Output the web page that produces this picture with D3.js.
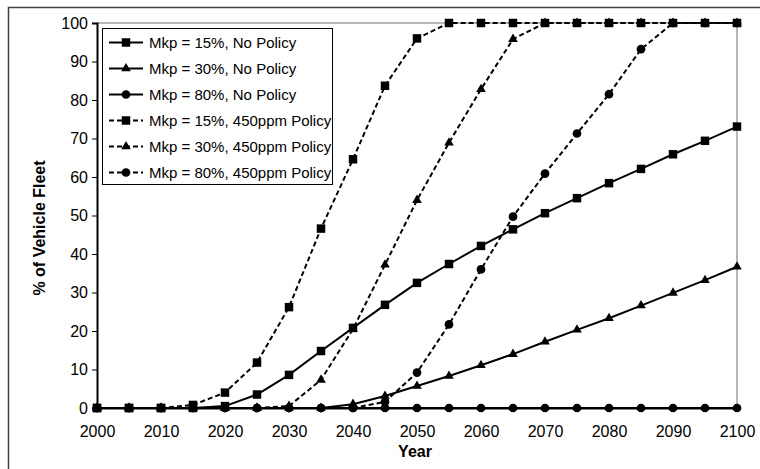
<!DOCTYPE html>
<html><head><meta charset="utf-8">
<script src="https://cdn.jsdelivr.net/npm/d3@7"></script>
<style>body{margin:0;background:#fff}svg{display:block}</style>
</head><body>
<svg id="c" width="760" height="469"></svg>
<script>
const years = d3.range(2000, 2101, 5);
const yTicks = [0,10,20,30,40,50,60,70,80,90,100];
const xTicks = [2000,2010,2020,2030,2040,2050,2060,2070,2080,2090,2100];
const seriesNames = ["Mkp = 15%, No Policy","Mkp = 30%, No Policy","Mkp = 80%, No Policy",
  "Mkp = 15%, 450ppm Policy","Mkp = 30%, 450ppm Policy","Mkp = 80%, 450ppm Policy"];
const mkp15NoPolicy = [0,0,0,0,0.5,3.5,8.6,14.8,20.8,26.8,32.5,37.4,42.1,46.4,50.6,54.5,58.4,62.1,65.9,69.4,73.1];
const mkp30NoPolicy = [0,0,0,0,0,0,0,0,1.0,3.1,5.7,8.3,11.1,14.0,17.2,20.3,23.3,26.6,29.9,33.2,36.7];
const mkp80NoPolicy = [0,0,0,0,0,0,0,0,0,0,0,0,0,0,0,0,0,0,0,0,0];
const mkp15Policy = [0,0,0,0.8,4.0,11.8,26.2,46.6,64.6,83.7,96.0,100,100,100,100,100,100,100,100,100,100];
const mkp30Policy = [0,0,0,0,0,0,0.5,7.3,20.5,37.2,54.0,68.9,82.8,95.8,100,100,100,100,100,100,100];
const mkp80Policy = [0,0,0,0,0,0,0,0,0,1.6,9.2,21.7,36.0,49.7,60.9,71.3,81.5,93.2,100,100,100];
const seriesValues = [mkp15NoPolicy,mkp30NoPolicy,mkp80NoPolicy,mkp15Policy,mkp30Policy,mkp80Policy];
const markers = ["square","triangle","circle","square","triangle","circle"];
const dashed = [false,false,false,true,true,true];

const svg = d3.select("#c");
const font = "'Liberation Sans', Arial, sans-serif";
// outer frame
svg.append("rect").attr("x",8.5).attr("y",7.5).attr("width",800).attr("height",500)
  .attr("fill","none").attr("stroke","#404040").attr("stroke-width",1.5);

const L=97, R=737, T=23, B=408;
const x = d3.scaleLinear().domain([2000,2100]).range([L,R]);
const y = d3.scaleLinear().domain([0,100]).range([B,T]);

// plot border (grey)
svg.append("path").attr("d",`M${L},${T}H${R}V${B}`).attr("fill","none").attr("stroke","#a0a0a0").attr("stroke-width",1.5);

// y axis
const ya = svg.append("g").attr("transform",`translate(${L},0)`)
  .call(d3.axisLeft(y).tickValues(yTicks).tickSize(5).tickPadding(4));
ya.select(".domain").attr("stroke","#000").attr("stroke-width",2);
ya.selectAll("text").attr("font-family",font).attr("font-size",16).attr("fill","#000");
// x axis
const xa = svg.append("g").attr("transform",`translate(0,${B})`)
  .call(d3.axisBottom(x).tickValues(xTicks).tickSize(0).tickPadding(18).tickFormat(d3.format("d")));
xa.select(".domain").attr("stroke","#000").attr("stroke-width",2);
xa.selectAll("text").attr("font-family",font).attr("font-size",16).attr("fill","#000");

svg.append("text").attr("x",415).attr("y",457).attr("text-anchor","middle")
  .attr("font-family",font).attr("font-weight","bold").attr("font-size",16).text("Year");
svg.append("text").attr("transform",`translate(45,228) rotate(-90)`).attr("text-anchor","middle")
  .attr("font-family",font).attr("font-weight","bold").attr("font-size",16).text("% of Vehicle Fleet");

const sym = {
  square: d3.symbol().type(d3.symbolSquare).size(72),
  triangle: d3.symbol().type(d3.symbolTriangle).size(40),
  circle: d3.symbol().type(d3.symbolCircle).size(60)
};
const line = d3.line().x((d,i)=>x(years[i])).y(d=>y(d));

seriesValues.forEach((vals,si)=>{
  const g = svg.append("g");
  g.append("path").attr("d",line(vals)).attr("fill","none").attr("stroke","#000")
    .attr("stroke-width",2).attr("stroke-dasharray",dashed[si]?"5,3":null);
  g.selectAll("path.m").data(vals).enter().append("path").attr("class","m")
    .attr("transform",(d,i)=>`translate(${x(years[i])},${y(d)})`)
    .attr("d",sym[markers[si]]()).attr("fill","#000");
});

// legend
const lg = svg.append("g");
lg.append("rect").attr("x",102.5).attr("y",28.5).attr("width",230).attr("height",156)
  .attr("fill","#fff").attr("stroke","#000").attr("stroke-width",1);
seriesNames.forEach((name,i)=>{
  const cy = 42.5 + i*26;
  lg.append("line").attr("x1",109).attr("x2",143).attr("y1",cy).attr("y2",cy)
    .attr("stroke","#000").attr("stroke-width",2).attr("stroke-dasharray",dashed[i]?"5,3":null);
  lg.append("path").attr("transform",`translate(126,${cy})`).attr("d",sym[markers[i]]()).attr("fill","#000");
  lg.append("text").attr("x",149).attr("y",cy+5.5).attr("font-family",font).attr("font-size",15)
    .attr("fill","#000").text(name);
});
</script>
</body></html>
